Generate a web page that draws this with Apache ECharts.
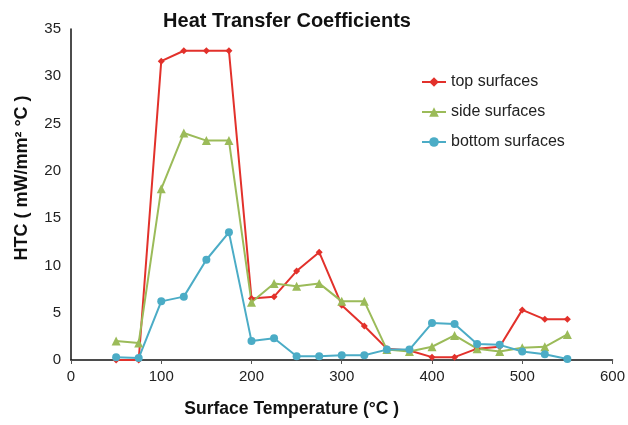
<!DOCTYPE html>
<html>
<head>
<meta charset="utf-8">
<script src="https://cdn.jsdelivr.net/npm/echarts@6/dist/echarts.min.js"></script>
<style>html,body{margin:0;padding:0;background:#fff}#c{width:628px;height:425px}</style>
</head>
<body>
<div id="c"></div>
<script>
const temps = [50,75,100,125,150,175,200,225,250,275,300,325,350,375,400,425,450,475,500,525,550];
const topSurfaces = [0,0,31.6,32.7,32.7,32.7,6.5,6.7,9.4,11.4,5.8,3.6,1.2,1.0,0.3,0.3,1.2,1.4,5.3,4.3,4.3];
const sideSurfaces = [2.0,1.8,18.1,24.0,23.2,23.2,6.1,8.1,7.8,8.1,6.2,6.2,1.1,0.9,1.4,2.6,1.2,0.9,1.3,1.4,2.7];
const bottomSurfaces = [0.3,0.2,6.2,6.7,10.6,13.5,2.0,2.3,0.4,0.4,0.5,0.5,1.1,1.1,3.9,3.8,1.7,1.6,0.9,0.6,0.1];
const xTicks = [0,100,200,300,400,500,600];
const yTicks = [0,5,10,15,20,25,30,35];

const pair = arr => temps.map((t,i)=>[t,arr[i]]);
const font = 'Liberation Sans, Arial, Helvetica, sans-serif';
const chart = echarts.init(document.getElementById('c'));
chart.setOption({
  animation:false,
  backgroundColor:'#fff',
  title:{text:'Heat Transfer Coefficients', left:282, top:6, textAlign:'center',
    textStyle:{fontFamily:font, fontWeight:'bold', fontSize:20, color:'#111'}},
  grid:{left:71, right:15, top:29, bottom:65},
  legend:{orient:'vertical', left:416, top:69, itemGap:14, itemWidth:24, itemHeight:12,
    textStyle:{fontFamily:font, fontSize:16, color:'#222'},
    data:['top surfaces','side surfaces','bottom surfaces']},
  xAxis:{type:'value', min:xTicks[0], max:xTicks[xTicks.length-1], interval:100,
    name:'Surface Temperature (°C )', nameLocation:'middle', nameGap:40,
    nameTextStyle:{fontFamily:font, fontWeight:'bold', fontSize:17.5, color:'#111', padding:[0,100,0,0]},
    axisLine:{lineStyle:{color:'#111', width:1.5}},
    axisTick:{show:true, length:4, inside:false, lineStyle:{color:'#555'}},
    axisLabel:{fontFamily:font, fontSize:15, color:'#222', margin:9},
    splitLine:{show:false}},
  yAxis:{type:'value', min:yTicks[0], max:yTicks[yTicks.length-1], interval:5,
    axisLine:{show:true, lineStyle:{color:'#111', width:1.5}},
    axisTick:{show:false},
    axisLabel:{fontFamily:font, fontSize:15, color:'#222', margin:10},
    splitLine:{show:false}},
  graphic:[{type:'text', x:22, y:178, rotation:Math.PI/2,
    style:{text:'HTC ( mW/mm² °C )', font:'bold 18px '+font, fill:'#111', align:'center', verticalAlign:'middle'}}],
  series:[
    {name:'top surfaces', type:'line', data:pair(topSurfaces), symbol:'diamond', symbolSize:7,
      itemStyle:{color:'#e2312b'}, lineStyle:{color:'#e2312b', width:2}},
    {name:'side surfaces', type:'line', data:pair(sideSurfaces), symbol:'triangle', symbolSize:9,
      itemStyle:{color:'#9bbb59'}, lineStyle:{color:'#9bbb59', width:2}},
    {name:'bottom surfaces', type:'line', data:pair(bottomSurfaces), symbol:'circle', symbolSize:8,
      itemStyle:{color:'#4bacc6'}, lineStyle:{color:'#4bacc6', width:2}}
  ]
});
</script>
</body>
</html>
